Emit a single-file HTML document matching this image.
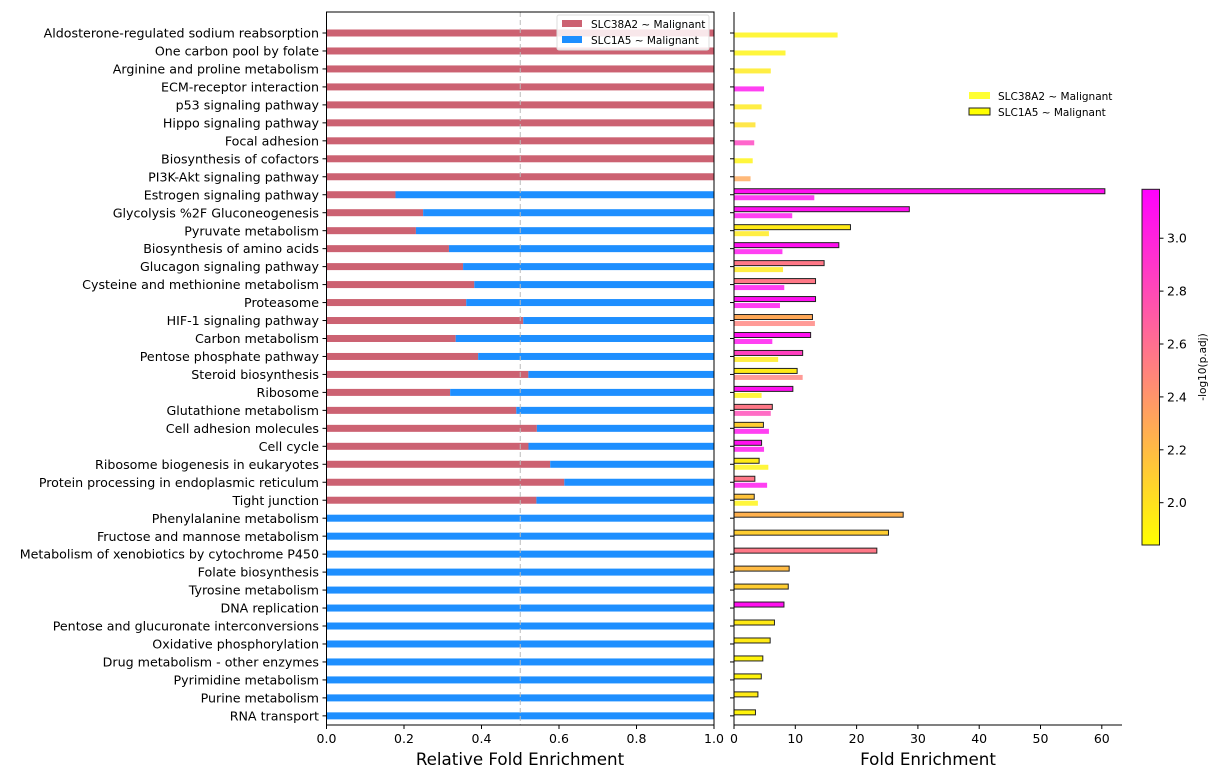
<!DOCTYPE html>
<html><head><meta charset="utf-8"><style>
body{margin:0;background:#fff;}
svg{display:block;font-family:"DejaVu Sans","Liberation Sans",sans-serif;}
</style></head><body>
<svg id="chart" width="1226" height="777" viewBox="0 0 1226 777"></svg>
<script>
const categories=["Aldosterone-regulated sodium reabsorption","One carbon pool by folate","Arginine and proline metabolism","ECM-receptor interaction","p53 signaling pathway","Hippo signaling pathway","Focal adhesion","Biosynthesis of cofactors","PI3K-Akt signaling pathway","Estrogen signaling pathway","Glycolysis %2F Gluconeogenesis","Pyruvate metabolism","Biosynthesis of amino acids","Glucagon signaling pathway","Cysteine and methionine metabolism","Proteasome","HIF-1 signaling pathway","Carbon metabolism","Pentose phosphate pathway","Steroid biosynthesis","Ribosome","Glutathione metabolism","Cell adhesion molecules","Cell cycle","Ribosome biogenesis in eukaryotes","Protein processing in endoplasmic reticulum","Tight junction","Phenylalanine metabolism","Fructose and mannose metabolism","Metabolism of xenobiotics by cytochrome P450","Folate biosynthesis","Tyrosine metabolism","DNA replication","Pentose and glucuronate interconversions","Oxidative phosphorylation","Drug metabolism - other enzymes","Pyrimidine metabolism","Purine metabolism","RNA transport"];
// fold enrichment (0 = not enriched)
const foldA2=[16.9,8.4,6.0,4.9,4.5,3.5,3.3,3.05,2.7,13.1,9.5,5.7,7.9,8.0,8.2,7.5,13.2,6.25,7.2,11.2,4.5,6.0,5.7,4.9,5.6,5.4,3.9,0,0,0,0,0,0,0,0,0,0,0,0];
const foldA5=[0,0,0,0,0,0,0,0,0,60.5,28.6,19.0,17.1,14.7,13.3,13.3,12.8,12.5,11.2,10.3,9.6,6.25,4.8,4.5,4.1,3.4,3.3,27.6,25.2,23.3,9.0,8.85,8.15,6.6,5.9,4.7,4.45,3.9,3.5];
// -log10(p.adj)
const sigA2=[1.9,1.9,1.95,3.1,1.95,2.0,2.85,1.9,2.3,3.1,3.1,1.95,3.1,1.95,3.1,3.1,2.5,3.1,1.95,2.5,1.9,2.8,3.1,3.1,1.9,3.1,1.9,0,0,0,0,0,0,0,0,0,0,0,0];
const sigA5=[0,0,0,0,0,0,0,0,0,3.1,3.1,1.95,3.1,2.55,2.55,3.1,2.3,3.1,2.85,1.95,3.1,2.55,2.1,3.1,1.95,2.55,2.15,2.25,2.1,2.55,2.2,2.1,3.1,1.95,1.95,1.9,1.9,1.95,1.9];
const leftTicks=[0,0.2,0.4,0.6,0.8,1.0];
const rightTicks=[0,10,20,30,40,50,60];
const cbTicks=[2.0,2.2,2.4,2.6,2.8,3.0];

const NS="http://www.w3.org/2000/svg";
const svg=document.getElementById('chart');
function mk(t,a,p){const e=document.createElementNS(NS,t);for(const k in a)e.setAttribute(k,a[k]);(p||svg).appendChild(e);return e;}
const yRow=i=>33+i*17.97;
const xL=v=>326.5+v*387.5;
const xR=v=>734+v*6.13;
const cbMin=1.84,cbMax=3.185;
const yCb=v=>545-(v-cbMin)/(cbMax-cbMin)*355.7;
function spring(v){let t=(v-cbMin)/(cbMax-cbMin);t=Math.max(0,Math.min(1,t));return `rgb(255,${Math.round(255*(1-t))},${Math.round(255*t)})`;}

// Left panel
const lg=mk('g',{});


categories.forEach((c,i)=>{
  const tot=foldA2[i]+foldA5[i];const r=tot?foldA2[i]/tot:0;const y=yRow(i);
  const rb=mk('rect',{x:xL(0),y:y-3.5,width:xL(r)-xL(0),height:7,fill:'#cc6272'},lg);
  
  
  const bb=mk('rect',{x:xL(r),y:y-3.5,width:xL(1)-xL(r),height:7,fill:'#1e8fff'},lg);
  
  
  mk('line',{x1:322.5,x2:326.5,y1:y,y2:y,stroke:'#000','stroke-width':1},lg);
  const t=mk('text',{x:319,y:y+4.6,'text-anchor':'end','font-size':12.65,fill:'#000'},lg);t.textContent=c;
  
  
});
mk('line',{x1:xL(0.5),x2:xL(0.5),y1:12,y2:725,stroke:'#bbb','stroke-dasharray':'5,3','stroke-width':1},lg);
mk('rect',{x:326.5,y:12,width:387.5,height:713,fill:'none',stroke:'#000','stroke-width':1},lg);
leftTicks.forEach(v=>{mk('line',{x1:xL(v),x2:xL(v),y1:725,y2:729,stroke:'#000'},lg);
  const t=mk('text',{x:xL(v),y:743,'text-anchor':'middle','font-size':12.5},lg);t.textContent=v.toFixed(1);});
const lt=mk('text',{x:520,y:765,'text-anchor':'middle','font-size':16.7},lg);lt.textContent='Relative Fold Enrichment';


// left legend
const leg=mk('g',{});


mk('rect',{x:557,y:15,width:152,height:35,fill:'#fff','fill-opacity':0.85,stroke:'#ddd',rx:2},leg);
mk('rect',{x:562,y:20,width:20,height:7,fill:'#cc6272'},leg);
mk('rect',{x:562,y:36,width:20,height:7,fill:'#1e8fff'},leg);
let t1=mk('text',{x:591,y:28,'font-size':10.5},leg);t1.textContent='SLC38A2 ~ Malignant';
let t2=mk('text',{x:591,y:44,'font-size':10.5},leg);t2.textContent='SLC1A5 ~ Malignant';

// Right panel
const rg=mk('g',{});


categories.forEach((c,i)=>{
  const y=yRow(i);
  mk('line',{x1:730,x2:734,y1:y,y2:y,stroke:'#000'},rg);
  if(foldA5[i]>0){
    const b=mk('rect',{x:xR(0),y:y-6,width:xR(foldA5[i])-xR(0),height:5,fill:spring(sigA5[i]),stroke:'#222','stroke-width':1},rg);
    
    
  }
  if(foldA2[i]>0){
    const oy=foldA5[i]>0?y+0.5:y-0.5;
    const b=mk('rect',{x:xR(0),y:oy,width:xR(foldA2[i])-xR(0),height:5,fill:spring(sigA2[i]),'fill-opacity':0.8},rg);
    
    
  }
});
mk('line',{x1:734,x2:734,y1:12,y2:725,stroke:'#000'},rg);
mk('line',{x1:734,x2:1122,y1:725,y2:725,stroke:'#000'},rg);
rightTicks.forEach(v=>{mk('line',{x1:xR(v),x2:xR(v),y1:725,y2:729,stroke:'#000'},rg);
  const t=mk('text',{x:xR(v),y:743,'text-anchor':'middle','font-size':12.5},rg);t.textContent=v;});
const rt=mk('text',{x:928,y:765,'text-anchor':'middle','font-size':16.7},rg);rt.textContent='Fold Enrichment';


const leg2=mk('g',{});


mk('rect',{x:969,y:92,width:21,height:7,fill:'#ffff00','fill-opacity':0.8},leg2);
mk('rect',{x:969,y:108,width:21,height:7,fill:'#ffff00',stroke:'#222'},leg2);
let t3=mk('text',{x:998,y:100,'font-size':10.5},leg2);t3.textContent='SLC38A2 ~ Malignant';
let t4=mk('text',{x:998,y:116,'font-size':10.5},leg2);t4.textContent='SLC1A5 ~ Malignant';

// colorbar
const cg=mk('g',{});


const defs=mk('defs',{});
const gr=mk('linearGradient',{id:'cbg',x1:0,y1:1,x2:0,y2:0},defs);
mk('stop',{offset:0,'stop-color':'#ffff00'},gr);mk('stop',{offset:1,'stop-color':'#ff00ff'},gr);
mk('rect',{x:1142,y:189.3,width:17.5,height:355.7,fill:'url(#cbg)',stroke:'#222','stroke-width':1},cg);
cbTicks.forEach(v=>{const y=yCb(v);mk('line',{x1:1159.5,x2:1163.5,y1:y,y2:y,stroke:'#000'},cg);
  const t=mk('text',{x:1167,y:y+4.5,'font-size':12.5},cg);t.textContent=v.toFixed(1);});
const ct=mk('text',{x:1206,y:367,'text-anchor':'middle','font-size':10.5,transform:'rotate(-90 1206 367)'},cg);ct.textContent='-log10(p.adj)';
</script>
</body></html>
